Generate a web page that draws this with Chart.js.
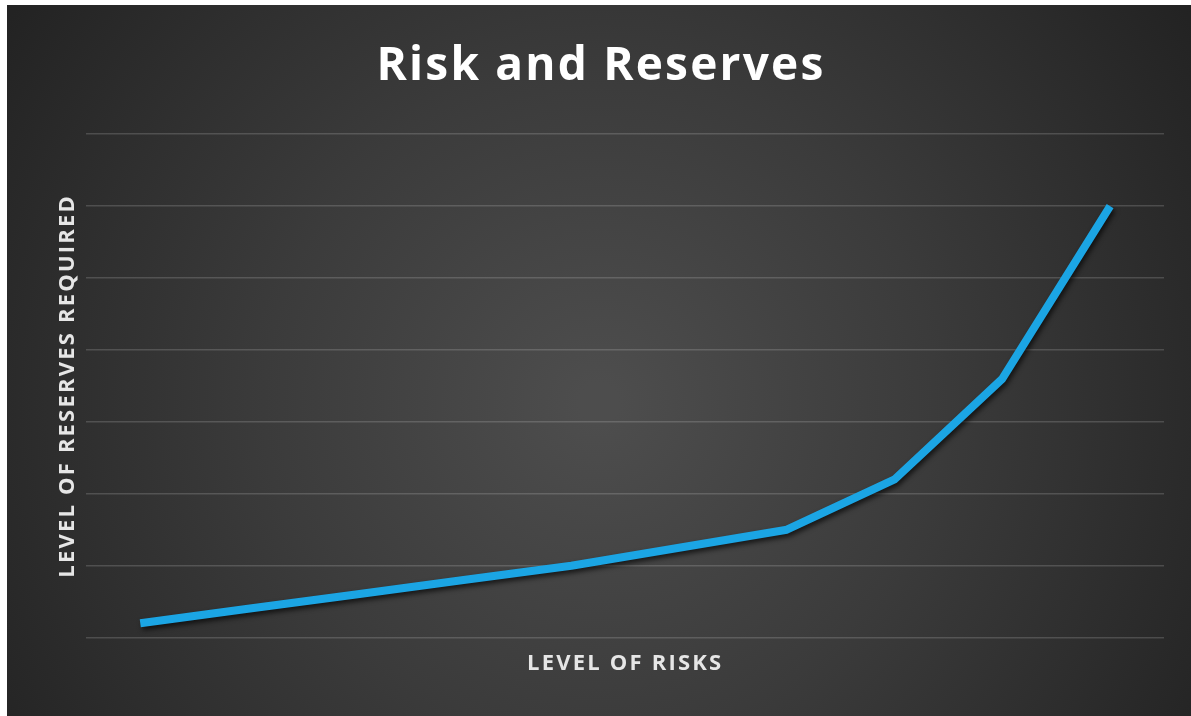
<!DOCTYPE html>
<html>
<head>
<meta charset="utf-8">
<title>Risk and Reserves</title>
<script src="https://cdn.jsdelivr.net/npm/chart.js@4.4.1/dist/chart.umd.min.js"></script>
<style>
  html, body { margin: 0; padding: 0; background: #ffffff; }
  body { width: 1191px; height: 716px; position: relative; overflow: hidden; }
  #wrap { position: absolute; left: 7px; top: 5px; width: 1184px; height: 711px; }
</style>
</head>
<body>
<div id="wrap"><canvas id="chart" width="1184" height="711"></canvas></div>
<script>
// Risk steps along the horizontal axis (labels are not shown)
const riskLevels = [1, 2, 3, 4, 5, 6, 7, 8, 9, 10];
// Reserves required at each risk step
const reserveLevels = [0.2, 0.4, 0.6, 0.8, 1.0, 1.25, 1.5, 2.2, 3.6, 6.0];
// Reserve scale (gridlines only)
const reserveMin = 0;
const reserveMax = 7;
const reserveStep = 1;

// Dark, softly lit backdrop; titles get a little extra tracking
const backdrop = {
  id: 'backdrop',
  beforeDraw(chart) {
    const { ctx, width, height } = chart;
    ctx.save();
    const g = ctx.createRadialGradient(width * 0.5, height * 0.56, 20, width * 0.5, height * 0.56, 720);
    g.addColorStop(0, '#4d4d4d');
    g.addColorStop(0.45, '#3b3b3b');
    g.addColorStop(1, '#222222');
    ctx.fillStyle = g;
    ctx.fillRect(0, 0, width, height);
    ctx.restore();
    ctx.letterSpacing = '2.2px';
  },
  beforeDatasetsDraw(chart) {
    chart.ctx.letterSpacing = '0px';
  }
};

// Drop shadow under the series line
const lineShadow = {
  id: 'lineShadow',
  beforeDatasetDraw(chart) {
    const ctx = chart.ctx;
    ctx.save();
    ctx.shadowColor = 'rgba(0,0,0,0.65)';
    ctx.shadowBlur = 5;
    ctx.shadowOffsetX = 2;
    ctx.shadowOffsetY = 3;
  },
  afterDatasetDraw(chart) {
    chart.ctx.restore();
  }
};

new Chart(document.getElementById('chart'), {
  type: 'line',
  data: {
    labels: riskLevels,
    datasets: [{
      data: reserveLevels,
      borderColor: '#1ba5e4',
      borderWidth: 8,
      pointRadius: 0,
      pointHoverRadius: 0,
      tension: 0,
      borderJoinStyle: 'round',
      borderCapStyle: 'butt',
      fill: false
    }]
  },
  options: {
    responsive: false,
    animation: false,
    devicePixelRatio: 1,
    layout: { padding: { left: 31, right: 27, top: 0, bottom: 39 } },
    plugins: {
      legend: { display: false },
      tooltip: { enabled: false },
      title: {
        display: true,
        text: 'Risk and Reserves',
        color: '#ffffff',
        font: { family: 'Open Sans', size: 46, weight: 'bold' },
        padding: { top: 34, bottom: 40 }
      }
    },
    scales: {
      x: {
        offset: true,
        grid: { display: false },
        border: { display: false },
        ticks: { display: false },
        title: {
          display: true,
          text: 'LEVEL OF RISKS',
          color: '#e6e6e6',
          font: { family: 'Open Sans', size: 22, weight: 'bold' },
          padding: { top: 5, bottom: 0 }
        }
      },
      y: {
        min: reserveMin,
        max: reserveMax,
        grid: { color: 'rgba(255,255,255,0.16)', lineWidth: 1.5, drawTicks: false },
        border: { display: false },
        ticks: { display: false, stepSize: reserveStep },
        title: {
          display: true,
          text: 'LEVEL OF RESERVES REQUIRED',
          color: '#e6e6e6',
          font: { family: 'Open Sans', size: 22, weight: 'bold' },
          padding: { top: 17, bottom: 5 }
        }
      }
    }
  },
  plugins: [backdrop, lineShadow]
});
</script>
</body>
</html>
